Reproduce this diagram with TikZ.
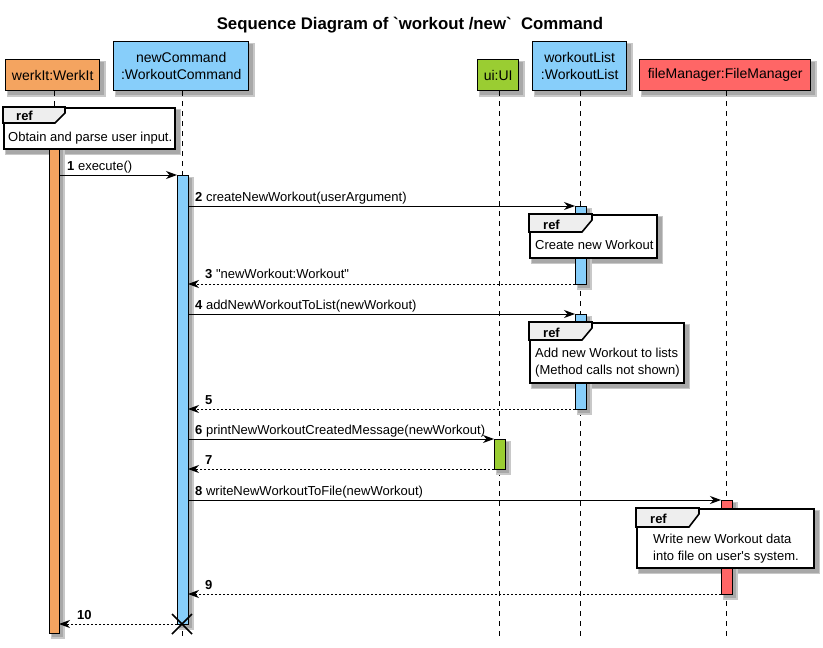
\documentclass[tikz,border=0pt]{standalone}
\usepackage{fontspec}
\setmainfont{Liberation Sans}[Ligatures=TeXOff]
\usetikzlibrary{arrows.meta}
\definecolor{cOrange}{HTML}{F4A460}
\definecolor{cBlue}{HTML}{87CEFA}
\definecolor{cGreen}{HTML}{9ACD32}
\definecolor{cRed}{HTML}{FF6666}
\definecolor{cTab}{HTML}{EEEEEE}
\definecolor{cShadowA}{HTML}{C8C8C8}
\definecolor{cShadowB}{HTML}{A8A8A8}
\pgfdeclarelayer{bg}
\pgfsetlayers{bg,main}
\tikzset{
  part/.style={draw, line width=1.4pt, inner sep=0pt, anchor=north west, align=center,
    font=\fontsize{14}{17.5}\selectfont},
  life/.style={line width=0.9pt, dash pattern=on 5pt off 5pt},
  act/.style={draw, line width=1pt},
  refbox/.style={draw, line width=1.6pt, fill=white, anchor=north west, inner sep=0pt},
  reftab/.style={draw, line width=1.6pt, fill=cTab},
  lbl/.style={anchor=base west, inner sep=0pt, font=\fontsize{13}{16}\selectfont},
  reftxt/.style={anchor=base west, inner sep=0pt, font=\fontsize{13}{16.5}\selectfont\bfseries},
  msg/.style={line width=0.9pt, -{Stealth[length=11pt, width=8pt, inset=3.5pt]}},
  ret/.style={msg, dash pattern=on 2pt off 2pt}
}
\newcommand{\shadowrect}[2]{%
  \fill[cShadowA] ([shift={(2,2)}]#1) rectangle ([shift={(5.5,5.5)}]#2);
  \fill[cShadowB] ([shift={(3,3)}]#1) rectangle ([shift={(4,4)}]#2);
}
\begin{document}
\begin{tikzpicture}[x=1pt,y=-1pt]
\useasboundingbox (0,0) rectangle (823,648);
% title
\node[inner sep=0pt, font=\fontsize{16.8}{20}\selectfont\bfseries] (title) at (410,25) {Sequence Diagram of `workout /new`\ \ Command};
% participants
\node[part, fill=cOrange, minimum width=94, minimum height=31] (werk) at (5,59) {werkIt:WerkIt};
\node[part, fill=cBlue, minimum width=135, minimum height=49] (cmd) at (113,41) {newCommand\\:WorkoutCommand};
\node[part, fill=cGreen, minimum width=41, minimum height=31] (ui) at (477,59) {ui:UI};
\node[part, fill=cBlue, minimum width=94, minimum height=49] (wl) at (532,41) {workoutList\\:WorkoutList};
\node[part, fill=cRed, minimum width=171, minimum height=31] (fm) at (639,59) {fileManager:FileManager};
% lifelines
\coordinate (werkEnd) at (54,640);
\coordinate (cmdEnd) at (182,640);
\coordinate (uiEnd) at (499,640);
\coordinate (wlEnd) at (580,640);
\coordinate (fmEnd) at (726,640);
\draw[life] (werk.south -| werkEnd) -- (werkEnd);
\draw[life] (cmd.south -| cmdEnd) -- (cmdEnd);
\draw[life] (ui.south -| uiEnd) -- (uiEnd);
\draw[life] (wl.south -| wlEnd) -- (wlEnd);
\draw[life] (fm.south -| fmEnd) -- (fmEnd);
% activations
\shadowrect{49,147}{59,633}
\shadowrect{177,175}{188,624}
\shadowrect{575,206}{586,284}
\shadowrect{575,314}{586,409}
\shadowrect{494,439}{505,469}
\shadowrect{721,500}{732,594}
\draw[act, fill=cOrange] (49,147) rectangle (59,633);
\draw[act, fill=cBlue] (177,175) rectangle (188,624);
\draw[act, fill=cBlue] (575,206) rectangle (586,284);
\draw[act, fill=cBlue] (575,314) rectangle (586,409);
\draw[act, fill=cGreen] (494,439) rectangle (505,469);
\draw[act, fill=cRed] (721,500) rectangle (732,594);
% ref 1
\node[refbox, minimum width=171, minimum height=41] (r1) at (3,107) {};
\draw[reftab] (r1.north west) -- (65,107) -- (65,113) -- (55,123) -- (3,123) -- cycle;
\node[reftxt] (r1h) at (16,120) {ref};
\node[lbl] (r1t) at (8,141) {Obtain and parse user input.};
% ref 2
\node[refbox, minimum width=127, minimum height=43] (r2) at (529,214) {};
\draw[reftab] (r2.north west) -- (592,214) -- (592,220) -- (582,232) -- (529,232) -- cycle;
\node[reftxt] (r2h) at (543,229) {ref};
\node[lbl] (r2t) at (535,249.5) {Create new Workout};
% ref 3
\node[refbox, minimum width=154, minimum height=60] (r3) at (529,322) {};
\draw[reftab] (r3.north west) -- (592,322) -- (592,328) -- (582,340) -- (529,340) -- cycle;
\node[reftxt] (r3h) at (543,337) {ref};
\node[lbl] (r3t) at (535,357.5) {Add new Workout to lists};
\node[lbl] (r3u) at (535,374.5) {(Method calls not shown)};
% ref 4
\node[refbox, minimum width=177, minimum height=59] (r4) at (636,508) {};
\draw[reftab] (r4.north west) -- (699,508) -- (699,514) -- (689,527) -- (636,527) -- cycle;
\node[reftxt] (r4h) at (650,523) {ref};
\node[lbl] (r4t) at (653,543.5) {Write new Workout data};
\node[lbl] (r4u) at (653,560) {into file on user's system.};
% shadows of boxes
\begin{pgfonlayer}{bg}
\foreach \n in {werk,cmd,ui,wl,fm,r1,r2,r3,r4}
  {\shadowrect{\n.north west}{\n.south east}}
\end{pgfonlayer}
% message endpoints
\coordinate (a1) at (59,175);  \coordinate (b1) at (177,175);
\coordinate (a2) at (188,206); \coordinate (b2) at (575,206);
\coordinate (a3) at (575,284); \coordinate (b3) at (188,284);
\coordinate (a4) at (188,314); \coordinate (b4) at (575,314);
\coordinate (a5) at (575,409); \coordinate (b5) at (188,409);
\coordinate (a6) at (188,439); \coordinate (b6) at (494,439);
\coordinate (a7) at (494,469); \coordinate (b7) at (188,469);
\coordinate (a8) at (188,500); \coordinate (b8) at (721,500);
\coordinate (a9) at (721,594); \coordinate (b9) at (188,594);
\coordinate (a10) at (177,624); \coordinate (b10) at (59,624);
\draw[msg] (a1) -- (b1);
\draw[msg] (a2) -- (b2);
\draw[ret] (a3) -- (b3);
\draw[msg] (a4) -- (b4);
\draw[ret] (a5) -- (b5);
\draw[msg] (a6) -- (b6);
\draw[ret] (a7) -- (b7);
\draw[msg] (a8) -- (b8);
\draw[ret] (a9) -- (b9);
\draw[ret] (a10) -- (b10);
% labels
\node[lbl] (l1) at (67,170) {\textbf{1} execute()};
\node[lbl] (l2) at (195,201) {\textbf{2} createNewWorkout(userArgument)};
\node[lbl] (l3) at (205,278.5) {\textbf{3} "newWorkout:Workout"};
\node[lbl] (l4) at (195,309) {\textbf{4} addNewWorkoutToList(newWorkout)};
\node[lbl] (l5) at (205,404) {\textbf{5}};
\node[lbl] (l6) at (195,434) {\textbf{6} printNewWorkoutCreatedMessage(newWorkout)};
\node[lbl] (l7) at (205,464) {\textbf{7}};
\node[lbl] (l8) at (195,495) {\textbf{8} writeNewWorkoutToFile(newWorkout)};
\node[lbl] (l9) at (205,589) {\textbf{9}};
\node[lbl] (l10) at (77,619) {\textbf{10}};
% destroy mark
\coordinate (xc) at (182,624);
\draw[line width=1.6pt] ([shift={(-10,-10)}]xc) -- ([shift={(10,10)}]xc);
\draw[line width=1.6pt] ([shift={(-10,10)}]xc) -- ([shift={(10,-10)}]xc);
\end{tikzpicture}
\end{document}
